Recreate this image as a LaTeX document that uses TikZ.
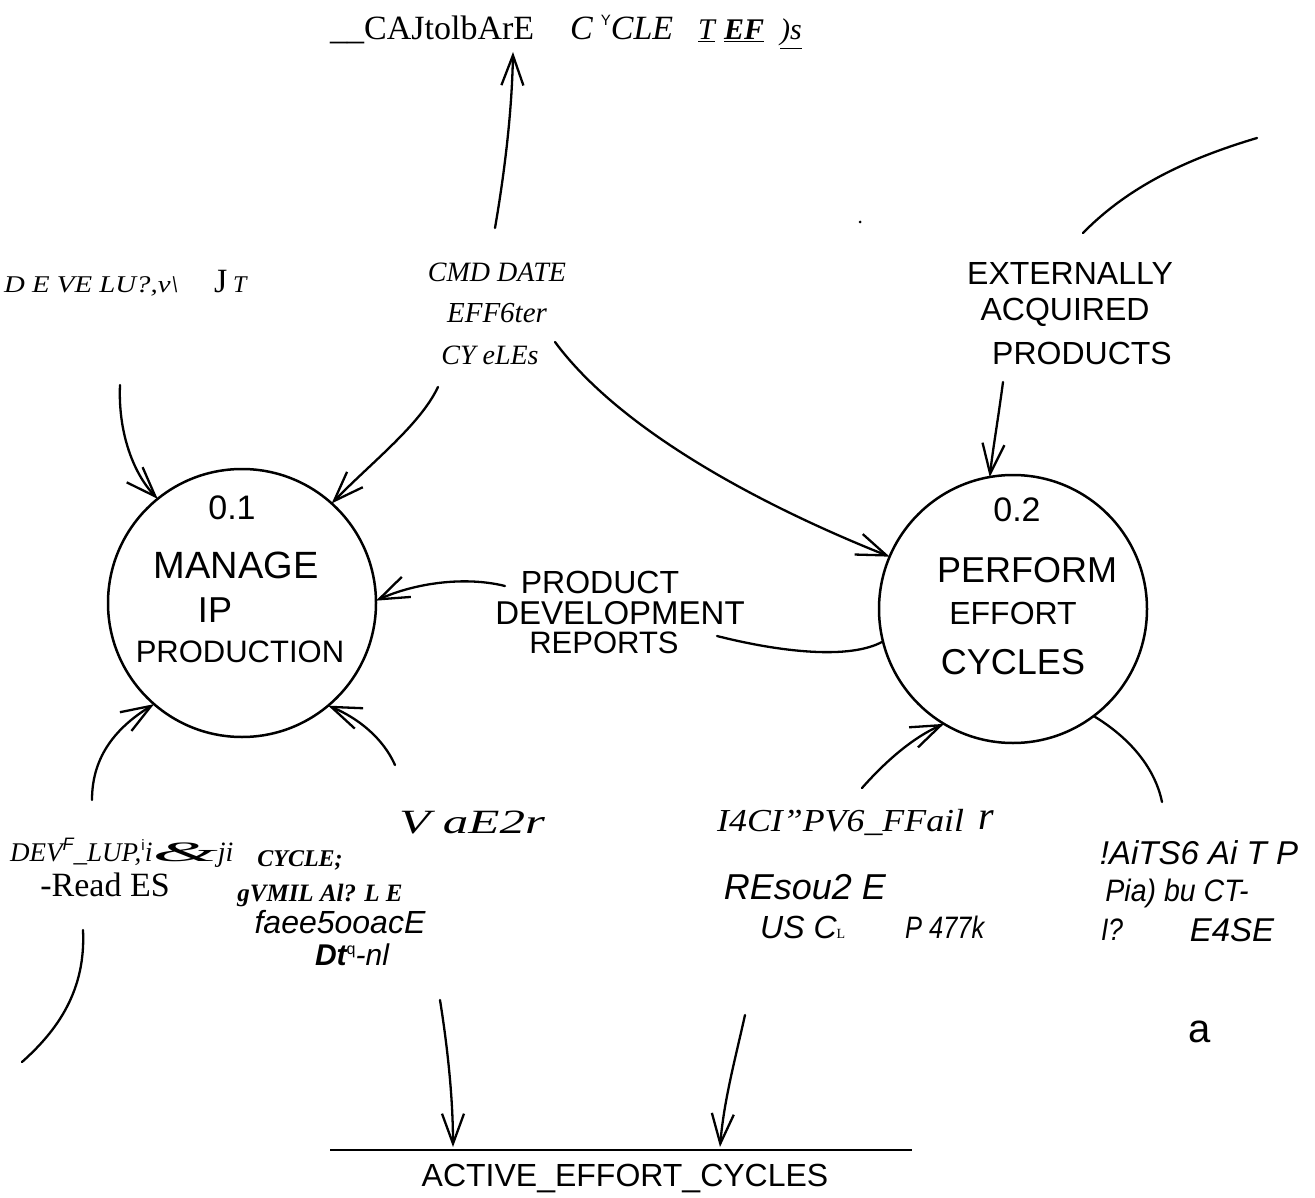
\documentclass[tikz,border=0pt]{standalone}
\usepackage{fontspec}
\setmainfont{Liberation Serif}
\newfontfamily\handf{Liberation Sans}
\newfontfamily\sansf{Liberation Sans}
\usetikzlibrary{arrows.meta}
\newcommand{\myfs}[1]{\fontsize{#1}{#1}\selectfont}
\tikzset{
  flow/.style={line width=2.3pt, line cap=round,
    -{Straight Barb[length=30pt,width=22pt,line width=2.3pt]}},
  plainline/.style={line width=2.3pt, line cap=round},
  proc/.style={circle, draw, line width=2.5pt, minimum size=268pt, inner sep=0pt, outer sep=0pt},
  hw/.style={font=\handf\myfs{32}, inner sep=0pt},
  lbl/.style={inner sep=0pt},
}
\begin{document}
\begin{tikzpicture}[x=1pt,y=-1pt]
\fill[white] (0,0) rectangle (1315,1198);
\useasboundingbox (0,0) rectangle (1315,1198);

% ---- top data store text
\node[lbl, anchor=base west] (topa) at (330,40) {\myfs{34}\_\_CAJtolbArE};
\node[lbl, anchor=base west] (topb) at (570,40) {\myfs{34}\itshape C\hspace{8pt}\raisebox{14pt}{\sansf\upshape\myfs{15}Y}CLE};
\node[lbl, anchor=base west] (topc) at (698,40) {\myfs{30}\underline{\itshape T}};
\node[lbl, anchor=base west] (topd) at (724,40) {\myfs{30}\underline{\bfseries\itshape EF}};
\node[lbl, anchor=base west] (tope) at (780,40) {\myfs{30}\underline{\itshape )s}};

% ---- upper left / centre texts
\node[lbl, anchor=base west] (devlu) at (4,293) {\scalebox{1.2}[1]{\myfs{24}\itshape D E VE LU?,v\textbackslash}};
\node[lbl, anchor=base west] (jt) at (214,293) {\myfs{34}J\,{\itshape\myfs{24}T}};
\node[lbl] (cmd) at (497,272) {\myfs{28}\itshape CMD DATE};
\node[lbl] (eff) at (497,313) {\myfs{29}\itshape EFF6ter};
\node[lbl] (cyl) at (490,355) {\myfs{28}\itshape CY eLEs};

% ---- externally acquired products
\node[hw] (ext) at (1070,273) {EXTERNALLY};
\node[hw] (acq) at (1065,312) {ACQUIRED};
\node[hw] (prd) at (1082,353) {PRODUCTS};
\fill (860,222) circle (1.5);

% ---- processes
\node[proc] (c1) at (242,603) {};
\node[proc] (c2) at (1013,609) {};
\node[hw, font=\handf\myfs{34}] (c1n) at (232,508) {0.1};
\node[hw, font=\handf\myfs{38}] (c1a) at (236,565) {MANAGE};
\node[hw, font=\handf\myfs{36}] (c1b) at (215,610) {IP};
\node[hw, font=\handf\myfs{31}] (c1c) at (240,652) {PRODUCTION};
\node[hw, font=\handf\myfs{34}] (c2n) at (1017,510) {0.2};
\node[hw, font=\handf\myfs{36}] (c2a) at (1027,570) {PERFORM};
\node[hw, font=\handf\myfs{32}] (c2b) at (1013,613) {EFFORT};
\node[hw, font=\handf\myfs{36}] (c2c) at (1013,662) {CYCLES};

% ---- product development reports
\node[hw] (pdr1) at (600,582) {PRODUCT};
\node[hw, font=\handf\myfs{33}] (pdr2) at (620,613) {DEVELOPMENT};
\node[hw, font=\handf\myfs{31}] (pdr3) at (604,643) {REPORTS};

% ---- lower texts
\node[lbl, anchor=base west] (dev2) at (10,861) {\myfs{27}\itshape DEV\raisebox{11pt}{\sansf\myfs{18}F}\_LUP,\raisebox{11pt}{\sansf\upshape\myfs{15}i}\myfs{28}i\scalebox{3}[1]{\&}ji};
\node[lbl] (read) at (105,885) {\myfs{34}-Read ES};
\node[lbl] (vae) at (472,822) {\scalebox{1.5}[1]{\myfs{34}\itshape V aE2r}};
\node[lbl] (cyc) at (300,860) {\myfs{24}\bfseries\itshape CYCLE;};
\node[lbl] (gvm) at (320,895) {\myfs{25}\bfseries\itshape gVMIL Al? L E};
\node[lbl] (fae) at (340,922) {\sansf\myfs{32}\itshape faee5ooacE};
\node[lbl] (dtq) at (352,955) {\sansf\myfs{30}{\bfseries\itshape Dt}\raisebox{11pt}{\myfs{16}q}{\itshape -nl}};

\node[lbl, anchor=base west] (icp) at (717,831) {\scalebox{1.12}[1]{\myfs{32}\itshape I4CI\symbol{34}PV6\_FFail}};
\node[lbl, anchor=base west] (icr) at (978,829) {\myfs{40}\itshape r};
\node[lbl] (res) at (805,887) {\sansf\myfs{36}\itshape REsou2 E};
\node[lbl, anchor=base west] (usc) at (760,938) {\sansf\myfs{32}\itshape US C\upshape\rmfamily\myfs{14}L};
\node[lbl, anchor=base west] (p477) at (905,938) {\scalebox{0.82}[1]{\sansf\myfs{31}\itshape P 477k}};
\node[lbl] (ait) at (1199,853) {\sansf\myfs{33}\itshape !AiTS6 Ai\ T\ P};
\node[lbl] (pia) at (1177,893) {\scalebox{0.92}[1]{\sansf\myfs{31}\itshape Pia) bu CT-}};
\node[lbl] (iq) at (1112,930) {\scalebox{0.85}[1]{\sansf\myfs{31}\itshape I?}};
\node[lbl] (e4se) at (1232,930) {\sansf\myfs{33}\itshape E4SE};
\node[lbl] (aa) at (1200,1032) {\sansf\myfs{40}a};

% ---- data store active effort cycles
\coordinate (st1) at (330,1150);
\coordinate (st2) at (912,1150);
\draw[line width=2.6pt] (st1) -- (st2);
\node[hw] (act) at (625,1178) {ACTIVE\_EFFORT\_CYCLES};

% ---- connectors
\coordinate (a1s) at (495,228); \coordinate (a1e) at (513,52);
\draw[flow] (a1s) .. controls (505,170) and (512,110) .. (a1e);
\coordinate (a2s) at (120,385);
\draw[flow] (a2s) .. controls (118,430) and (132,472) .. (c1.129);
\coordinate (a3s) at (438,387);
\draw[flow] (a3s) .. controls (420,425) and (372,462) .. (c1.48);
\coordinate (a4s) at (555,342);
\draw[flow] (a4s) .. controls (620,430) and (760,505) .. (c2.157);
\coordinate (a5s) at (1083,233); \coordinate (a5e) at (1257,138);
\draw[plainline] (a5s) .. controls (1130,185) and (1190,158) .. (a5e);
\coordinate (a6s) at (1003,382);
\draw[flow] (a6s) .. controls (998,420) and (993,448) .. (c2.100);
\coordinate (a7e) at (717,636);
\draw[plainline] (c2.194) .. controls (850,660) and (780,652) .. (a7e);
\coordinate (a8s) at (505,586);
\draw[flow] (a8s) .. controls (465,576) and (415,583) .. (c1.1);
\coordinate (a9s) at (92,800);
\draw[flow] (a9s) .. controls (92,760) and (112,730) .. (c1.-131);
\coordinate (a10s) at (395,765);
\draw[flow] (a10s) .. controls (383,738) and (358,718) .. (c1.-50);
\coordinate (a11s) at (83,930); \coordinate (a11e) at (22,1062);
\draw[plainline] (a11s) .. controls (86,990) and (58,1030) .. (a11e);
\coordinate (a12s) at (862,788);
\draw[flow] (a12s) .. controls (885,762) and (912,738) .. (c2.239);
\coordinate (a13e) at (1162,802);
\draw[plainline] (c2.-53) .. controls (1130,738) and (1155,768) .. (a13e);
\coordinate (a15s) at (440,1000); \coordinate (a15e) at (453,1147);
\draw[flow] (a15s) .. controls (448,1050) and (453,1100) .. (a15e);
\coordinate (a16s) at (745,1015); \coordinate (a16e) at (720,1147);
\draw[flow] (a16s) .. controls (735,1060) and (724,1100) .. (a16e);
\end{tikzpicture}
\end{document}
